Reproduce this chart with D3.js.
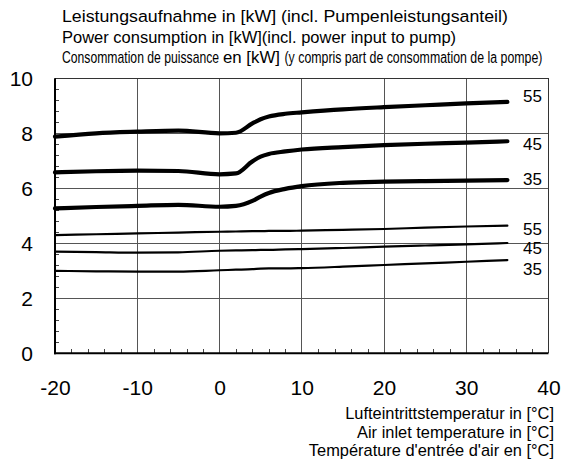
<!DOCTYPE html>
<html>
<head>
<meta charset="utf-8">
<script src="https://cdn.jsdelivr.net/npm/d3@7/dist/d3.min.js"></script>
<style>
  html, body { margin: 0; padding: 0; background: #fff; }
  svg { display: block; font-family: "Liberation Sans", Arial, sans-serif; }
</style>
</head>
<body>
<svg id="chart" width="563" height="468"></svg>
<script>
// Air inlet temperature (°C) sampled along every curve
const temps = [-20, -15, -10, -5, 0, 2, 4, 5, 6, 8, 10, 15, 20, 25, 30, 35];

// Power consumption (kW) – heavy curves, flow temperatures 55 / 45 / 35 °C
const heavy55 = [7.88, 8.00, 8.06, 8.10, 8.00, 8.02, 8.36, 8.51, 8.61, 8.71, 8.76, 8.87, 8.95, 9.02, 9.09, 9.14];
const heavy45 = [6.58, 6.62, 6.64, 6.63, 6.51, 6.54, 6.98, 7.15, 7.25, 7.34, 7.41, 7.50, 7.57, 7.62, 7.66, 7.71];
const heavy35 = [5.27, 5.32, 5.36, 5.40, 5.33, 5.36, 5.54, 5.70, 5.83, 5.98, 6.08, 6.20, 6.24, 6.26, 6.28, 6.30];

// Power consumption (kW) – light curves, flow temperatures 55 / 45 / 35 °C
const light55 = [4.30, 4.33, 4.36, 4.39, 4.42, 4.43, 4.44, 4.44, 4.45, 4.45, 4.46, 4.49, 4.52, 4.57, 4.61, 4.64];
const light45 = [3.70, 3.68, 3.66, 3.67, 3.73, 3.74, 3.75, 3.76, 3.76, 3.78, 3.79, 3.83, 3.88, 3.92, 3.96, 4.01];
const light35 = [3.00, 2.98, 2.97, 2.97, 3.02, 3.04, 3.06, 3.08, 3.09, 3.09, 3.10, 3.15, 3.21, 3.27, 3.33, 3.39];

// Curve end labels (flow temperature)
const curveLabels = ["55", "45", "35", "55", "45", "35"];

// Tick labels
const xTicks = [-20, -10, 0, 10, 20, 30, 40];
const yTicks = [0, 2, 4, 6, 8, 10];

const titleLines = [
  "Leistungsaufnahme in [kW] (incl. Pumpenleistungsanteil)",
  "Power consumption in [kW](incl. power input to pump)"
];
const titleFrench = ["Consommation de puissance", "en [kW]", "(y compris part de consommation de la pompe)"];
const axisTitleLines = [
  "Lufteintrittstemperatur in [°C]",
  "Air inlet temperature in [°C]",
  "Température d'entrée d'air en [°C]"
];

const series = [
  { values: heavy55, label: curveLabels[0], width: 4.2, dy: -6 },
  { values: heavy45, label: curveLabels[1], width: 4.2, dy: 3 },
  { values: heavy35, label: curveLabels[2], width: 4.2, dy: -1.5 },
  { values: light55, label: curveLabels[3], width: 2.2, dy: 3 },
  { values: light45, label: curveLabels[4], width: 2.2, dy: 5 },
  { values: light35, label: curveLabels[5], width: 2.2, dy: 9 }
];

const svg = d3.select("#chart");
const plot = { left: 55, right: 548.5, top: 78.3, bottom: 353.3 };

const x = d3.scaleLinear().domain([-20, 40]).range([plot.left, plot.right]);
const y = d3.scaleLinear().domain([0, 10]).range([plot.bottom, plot.top]);

// Header (three languages); each piece is scaled horizontally to its set width
const title = svg.append("g").attr("fill", "#000");
function fitText(str, x0, y0, size, width) {
  const t = title.append("text").attr("font-size", size).text(str);
  const natural = t.node().getComputedTextLength();
  t.attr("transform", `translate(${x0},${y0}) scale(${width / natural},1)`);
  return t;
}
fitText(titleLines[0], 62, 22, 17.2, 446);
fitText(titleLines[1], 62, 42.5, 17.2, 394);
// French line: condensed type, with "en [kW]" set in the regular width
fitText(titleFrench[0], 62, 63, 16.2, 157);
fitText(titleFrench[1], 223, 63, 17, 57);
fitText(titleFrench[2], 284.5, 63, 16.2, 258);

// Grid
const grid = svg.append("g").attr("stroke", "#555").attr("stroke-width", 1).attr("shape-rendering", "crispEdges");
grid.selectAll("line.v").data(xTicks.slice(1, -1)).join("line")
  .attr("x1", d => x(d)).attr("x2", d => x(d))
  .attr("y1", plot.top).attr("y2", plot.bottom);
grid.selectAll("line.h").data(yTicks.slice(1, -1)).join("line")
  .attr("x1", plot.left).attr("x2", plot.right)
  .attr("y1", d => y(d)).attr("y2", d => y(d));
// frame top / right
grid.append("line").attr("x1", plot.left).attr("x2", plot.right).attr("y1", plot.top).attr("y2", plot.top).attr("stroke", "#333");
grid.append("line").attr("x1", plot.right).attr("x2", plot.right).attr("y1", plot.top).attr("y2", plot.bottom).attr("stroke", "#333");

// Minor ticks pointing inward
const minorX = d3.range(-18, 40, 2).filter(d => d % 10 !== 0);
const minorY = d3.range(0.4, 10, 0.4).filter(d => Math.abs(d / 2 - Math.round(d / 2)) > 1e-6);
svg.append("g").attr("transform", `translate(0,${plot.bottom})`)
  .call(d3.axisBottom(x).tickValues(minorX).tickSize(-4).tickFormat(""))
  .call(g => g.select(".domain").remove())
  .selectAll("line").attr("stroke", "#444").attr("shape-rendering", "crispEdges");
svg.append("g").attr("transform", `translate(${plot.left},0)`)
  .call(d3.axisLeft(y).tickValues(minorY).tickSize(-4).tickFormat(""))
  .call(g => g.select(".domain").remove())
  .selectAll("line").attr("stroke", "#444").attr("shape-rendering", "crispEdges");

// Main axes
svg.append("line").attr("x1", plot.left).attr("x2", plot.left).attr("y1", plot.top).attr("y2", plot.bottom + 1)
  .attr("stroke", "#000").attr("stroke-width", 2);
svg.append("line").attr("x1", plot.left - 1).attr("x2", plot.right).attr("y1", plot.bottom).attr("y2", plot.bottom)
  .attr("stroke", "#000").attr("stroke-width", 2);

// Tick labels (plain hyphen for negatives)
const fmt = d => String(d);
svg.append("g").attr("transform", `translate(${plot.left},0)`)
  .call(d3.axisLeft(y).tickValues(yTicks).tickSize(0).tickPadding(22).tickFormat(fmt))
  .call(g => g.select(".domain").remove())
  .selectAll("text").attr("font-size", 21).attr("font-family", "'Liberation Sans', Arial, sans-serif").attr("fill", "#000");
svg.append("g").attr("transform", `translate(0,${plot.bottom})`)
  .call(d3.axisBottom(x).tickValues(xTicks).tickSize(0).tickPadding(27).tickFormat(fmt))
  .call(g => g.select(".domain").remove())
  .selectAll("text").attr("font-size", 21).attr("font-family", "'Liberation Sans', Arial, sans-serif").attr("fill", "#000");

// Curves
const line = d3.line().x((d, i) => x(temps[i])).y(d => y(d)).curve(d3.curveMonotoneX);
svg.append("g").selectAll("path").data(series).join("path")
  .attr("d", d => line(d.values))
  .attr("fill", "none").attr("stroke", "#000")
  .attr("stroke-width", d => d.width)
  .attr("stroke-linecap", "round").attr("stroke-linejoin", "round");

// Curve labels
svg.append("g").selectAll("text").data(series).join("text")
  .attr("x", 523)
  .attr("y", d => y(d.values[d.values.length - 1]) + d.dy)
  .attr("dy", "0.36em")
  .attr("font-size", 17)
  .text(d => d.label);

// Axis title
axisTitleLines.forEach((t, i) => {
  svg.append("text")
    .attr("x", 554).attr("y", 419 + i * 18.5)
    .attr("text-anchor", "end")
    .attr("font-size", 16.4)
    .text(t);
});
</script>
</body>
</html>
